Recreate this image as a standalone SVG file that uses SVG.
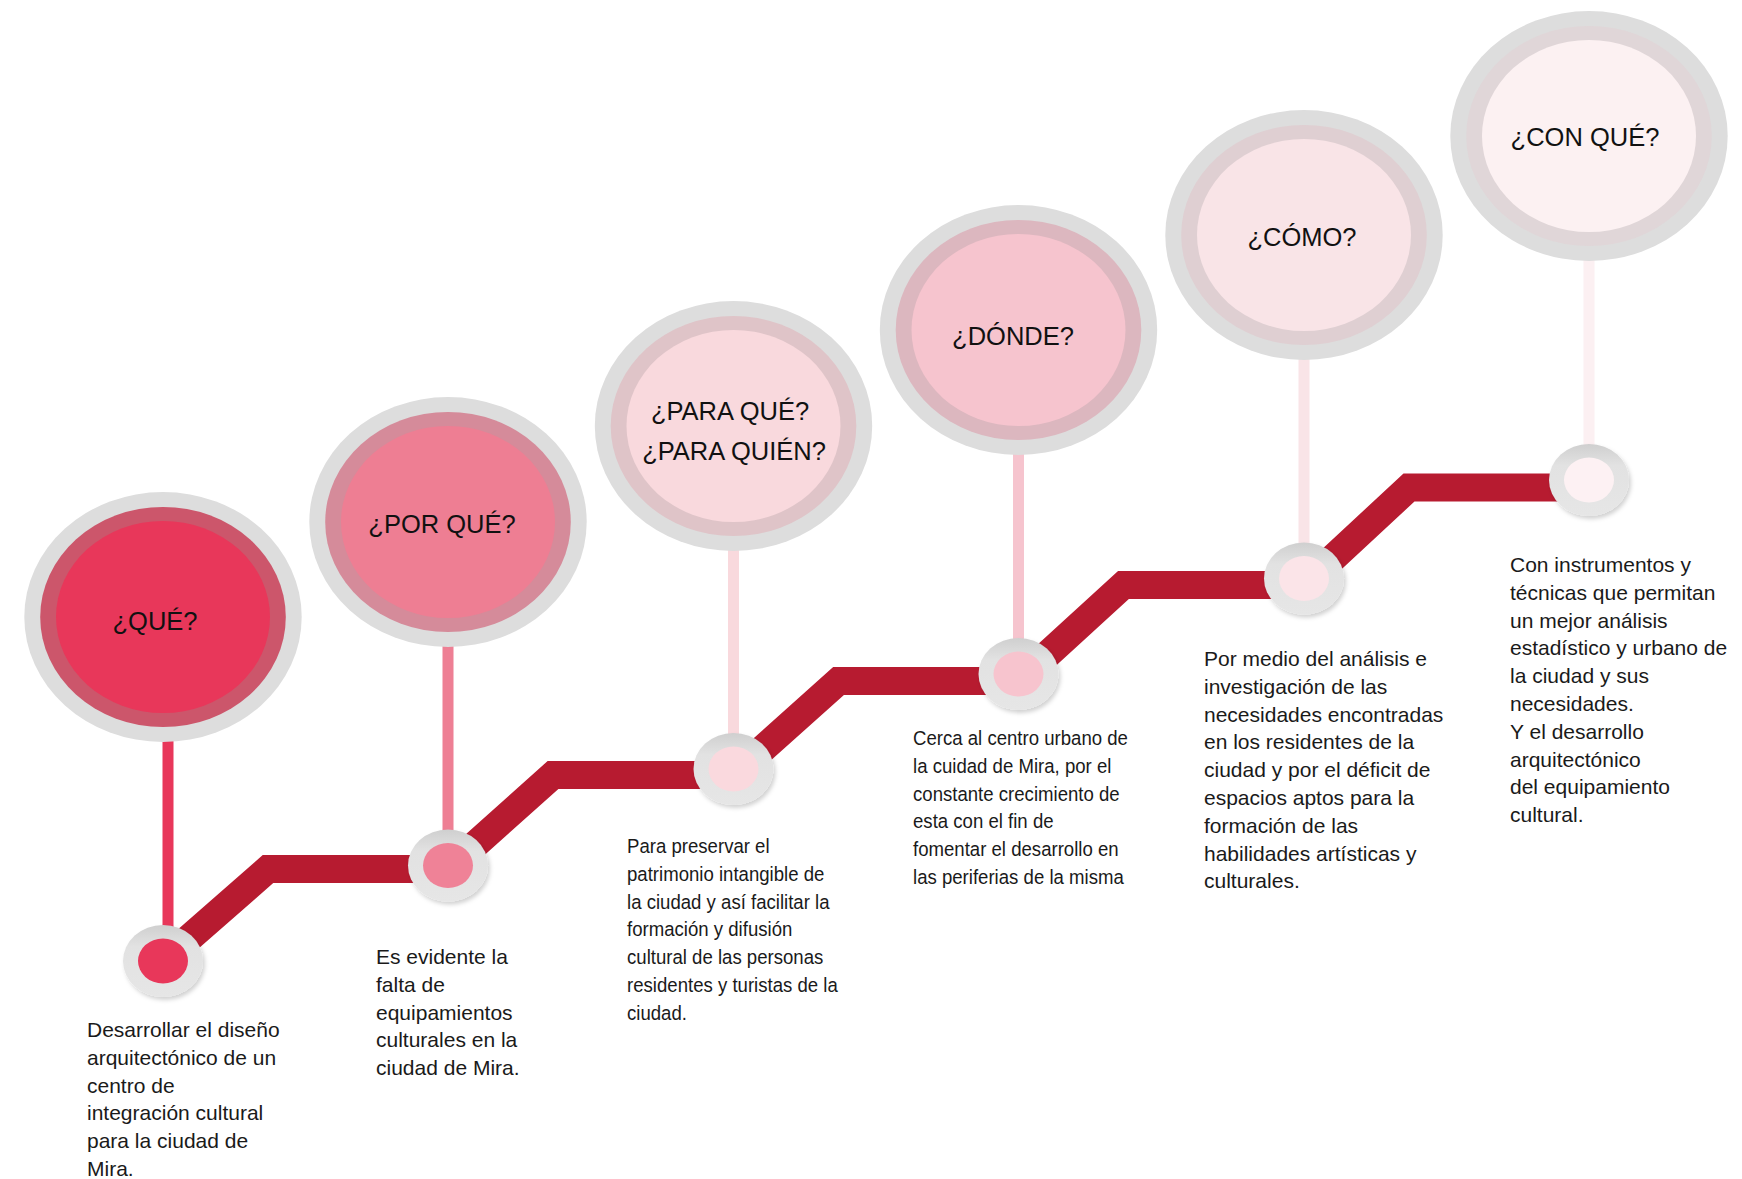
<svg xmlns="http://www.w3.org/2000/svg" width="1742" height="1179" viewBox="0 0 1742 1179">
<defs>
<linearGradient id="dotg" x1="0" y1="0" x2="0" y2="1">
<stop offset="0" stop-color="#cfcfcf"/>
<stop offset="0.3" stop-color="#e2e2e2"/>
<stop offset="1" stop-color="#e6e6e6"/>
</linearGradient>
<filter id="sh" x="-30%" y="-30%" width="160%" height="160%">
<feDropShadow dx="2" dy="3" stdDeviation="2" flood-color="#000" flood-opacity="0.18"/>
</filter>
</defs>
<style>
.outer{fill:#dddddd}
.dot{fill:url(#dotg);filter:url(#sh)}
.lbl{font-family:"Liberation Sans",Arial,sans-serif;font-size:25.5px;fill:#111;text-anchor:middle}
.desc{font-family:"Liberation Sans",Arial,sans-serif;font-size:21px;fill:#1a1a1a}
.desc2{font-family:"Liberation Sans",Arial,sans-serif;font-size:18.6px;fill:#1a1a1a}
.band{fill:none;stroke:#b71b30;stroke-width:28;stroke-linejoin:miter}
.stem{stroke-width:11}
</style>
<rect width="1742" height="1179" fill="#ffffff"/>
<g id="connectors">
<polyline class="band" points="163,961 268,869 448,869 553,775 733.5,775 838.5,681 1018.5,681 1123.5,585 1304,585 1409,487.5 1589,487.5"/>
<line class="stem" x1="168" y1="740" x2="168" y2="935" stroke="#e8375a"/>
<line class="stem" x1="448" y1="645" x2="448" y2="840" stroke="#ee7f94"/>
<line class="stem" x1="733.5" y1="549" x2="733.5" y2="743" stroke="#f9d9dd"/>
<line class="stem" x1="1018.5" y1="453" x2="1018.5" y2="648" stroke="#f6c4ce"/>
<line class="stem" x1="1304" y1="358" x2="1304" y2="552" stroke="#f9e4e7"/>
<line class="stem" x1="1589" y1="259" x2="1589" y2="454" stroke="#fcf0f2"/>
</g>
<g id="node-que">
<ellipse class="outer" cx="163" cy="617" rx="138.7" ry="125"/>
<ellipse cx="163" cy="617" rx="122.8" ry="110" fill="#cc566b"/>
<ellipse cx="163" cy="617" rx="107" ry="96" fill="#e8375a"/>
<text class="lbl" x="155" y="630">¿QUÉ?</text>
<ellipse class="dot" cx="163" cy="961" rx="40" ry="36"/>
<ellipse cx="163" cy="961" rx="25" ry="22.5" fill="#e8375a"/>
<text class="desc"><tspan x="87" y="1037">Desarrollar el diseño</tspan><tspan x="87" dy="27.8">arquitectónico de un</tspan><tspan x="87" dy="27.8">centro de</tspan><tspan x="87" dy="27.8">integración cultural</tspan><tspan x="87" dy="27.8">para la ciudad de</tspan><tspan x="87" dy="27.8">Mira.</tspan></text>
</g>
<g id="node-porque">
<ellipse class="outer" cx="448" cy="522" rx="138.7" ry="125"/>
<ellipse cx="448" cy="522" rx="122.8" ry="110" fill="#d58b9a"/>
<ellipse cx="448" cy="522" rx="107" ry="96" fill="#ee7e93"/>
<text class="lbl" x="442" y="533">¿POR QUÉ?</text>
<ellipse class="dot" cx="448" cy="865.5" rx="40" ry="36"/>
<ellipse cx="448" cy="865.5" rx="25" ry="22.5" fill="#ef8297"/>
<text class="desc"><tspan x="376" y="964">Es evidente la</tspan><tspan x="376" dy="27.8">falta de</tspan><tspan x="376" dy="27.8">equipamientos</tspan><tspan x="376" dy="27.8">culturales en la</tspan><tspan x="376" dy="27.8">ciudad de Mira.</tspan></text>
</g>
<g id="node-paraque">
<ellipse class="outer" cx="733.5" cy="426" rx="138.7" ry="125"/>
<ellipse cx="733.5" cy="426" rx="122.8" ry="110" fill="#dfc4c8"/>
<ellipse cx="733.5" cy="426" rx="107" ry="96" fill="#f9d9dd"/>
<text class="lbl" x="730" y="420">¿PARA QUÉ?</text>
<text class="lbl" x="734" y="460">¿PARA QUIÉN?</text>
<ellipse class="dot" cx="733.5" cy="769" rx="40" ry="36"/>
<ellipse cx="733.5" cy="769" rx="25" ry="22.5" fill="#fad9de"/>
<g transform="translate(627,853) scale(1,1.06)"><text class="desc2"><tspan x="0" y="0">Para preservar el</tspan><tspan x="0" dy="26.2">patrimonio intangible de</tspan><tspan x="0" dy="26.2">la ciudad y así facilitar la</tspan><tspan x="0" dy="26.2">formación y difusión</tspan><tspan x="0" dy="26.2">cultural de las personas</tspan><tspan x="0" dy="26.2">residentes y turistas de la</tspan><tspan x="0" dy="26.2">ciudad.</tspan></text></g>
</g>
<g id="node-donde">
<ellipse class="outer" cx="1018.5" cy="330" rx="138.7" ry="125"/>
<ellipse cx="1018.5" cy="330" rx="122.8" ry="110" fill="#dcb7bf"/>
<ellipse cx="1018.5" cy="330" rx="107" ry="96" fill="#f6c4ce"/>
<text class="lbl" x="1013" y="345">¿DÓNDE?</text>
<ellipse class="dot" cx="1018.5" cy="674" rx="40" ry="36"/>
<ellipse cx="1018.5" cy="674" rx="25" ry="22.5" fill="#f7c4ce"/>
<g transform="translate(913,745) scale(1,1.06)"><text class="desc2"><tspan x="0" y="0">Cerca al centro urbano de</tspan><tspan x="0" dy="26.2">la cuidad de Mira, por el</tspan><tspan x="0" dy="26.2">constante crecimiento de</tspan><tspan x="0" dy="26.2">esta con el fin de</tspan><tspan x="0" dy="26.2">fomentar el desarrollo en</tspan><tspan x="0" dy="26.2">las periferias de la misma</tspan></text></g>
</g>
<g id="node-como">
<ellipse class="outer" cx="1304" cy="235" rx="138.7" ry="125"/>
<ellipse cx="1304" cy="235" rx="122.8" ry="110" fill="#dfcfd2"/>
<ellipse cx="1304" cy="235" rx="107" ry="96" fill="#f9e4e7"/>
<text class="lbl" x="1302" y="246">¿CÓMO?</text>
<ellipse class="dot" cx="1304" cy="578.5" rx="40" ry="36"/>
<ellipse cx="1304" cy="578.5" rx="25" ry="22.5" fill="#fbe4e8"/>
<text class="desc"><tspan x="1204" y="666">Por medio del análisis e</tspan><tspan x="1204" dy="27.8">investigación de las</tspan><tspan x="1204" dy="27.8">necesidades encontradas</tspan><tspan x="1204" dy="27.8">en los residentes de la</tspan><tspan x="1204" dy="27.8">ciudad y por el déficit de</tspan><tspan x="1204" dy="27.8">espacios aptos para la</tspan><tspan x="1204" dy="27.8">formación de las</tspan><tspan x="1204" dy="27.8">habilidades artísticas y</tspan><tspan x="1204" dy="27.8">culturales.</tspan></text>
</g>
<g id="node-conque">
<ellipse class="outer" cx="1589" cy="136" rx="138.7" ry="125"/>
<ellipse cx="1589" cy="136" rx="122.8" ry="110" fill="#e0d6d8"/>
<ellipse cx="1589" cy="136" rx="107" ry="96" fill="#fcf1f2"/>
<text class="lbl" x="1585" y="146">¿CON QUÉ?</text>
<ellipse class="dot" cx="1589" cy="480" rx="40" ry="36"/>
<ellipse cx="1589" cy="480" rx="25" ry="22.5" fill="#fdf1f3"/>
<text class="desc"><tspan x="1510" y="572">Con instrumentos y</tspan><tspan x="1510" dy="27.8">técnicas que permitan</tspan><tspan x="1510" dy="27.8">un mejor análisis</tspan><tspan x="1510" dy="27.8">estadístico y urbano de</tspan><tspan x="1510" dy="27.8">la ciudad y sus</tspan><tspan x="1510" dy="27.8">necesidades.</tspan><tspan x="1510" dy="27.8">Y el desarrollo</tspan><tspan x="1510" dy="27.8">arquitectónico</tspan><tspan x="1510" dy="27.8">del equipamiento</tspan><tspan x="1510" dy="27.8">cultural.</tspan></text>
</g>
</svg>
